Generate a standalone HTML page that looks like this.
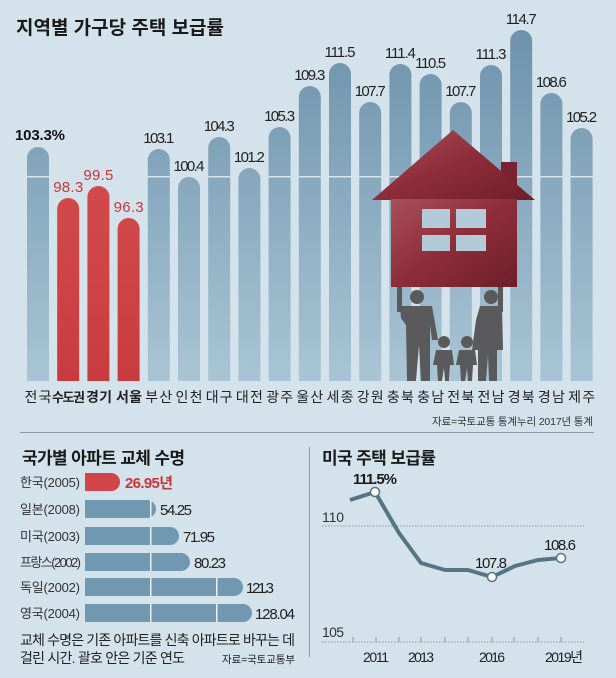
<!DOCTYPE html>
<html><head><meta charset="utf-8"><style>
html,body{margin:0;padding:0;background:#d4e2eb;}
svg{display:block;font-family:"Liberation Sans","Noto Sans CJK KR",sans-serif;}
</style></head><body>
<svg width="616" height="678" viewBox="0 0 616 678" xmlns="http://www.w3.org/2000/svg">
<defs>
<linearGradient id="bg" x1="0" y1="30" x2="0" y2="381" gradientUnits="userSpaceOnUse"><stop offset="0" stop-color="#6d92ab"/><stop offset="1" stop-color="#a9c5d5"/></linearGradient>
<linearGradient id="rg" x1="0" y1="180" x2="0" y2="381" gradientUnits="userSpaceOnUse"><stop offset="0" stop-color="#d24a4c"/><stop offset="1" stop-color="#c83c40"/></linearGradient>
<linearGradient id="hg" x1="0" y1="0" x2="1" y2="1"><stop offset="0" stop-color="#a9505a"/><stop offset="0.5" stop-color="#8e2d3a"/><stop offset="1" stop-color="#6e1f2a"/></linearGradient>
</defs>
<rect width="616" height="678" fill="#d4e2eb"/>
<text x="16" y="34" font-size="19" font-weight="bold" fill="#1a1a1a" textLength="208">지역별 가구당 주택 보급률</text>

<g fill="url(#bg)">
<path d="M27,381V158A11,11 0 0 1 49,158V381Z"/>
<path d="M147.8,381V160A11,11 0 0 1 169.8,160V381Z"/>
<path d="M178,381V188A11,11 0 0 1 200,188V381Z"/>
<path d="M208.2,381V148A11,11 0 0 1 230.2,148V381Z"/>
<path d="M238.4,381V179A11,11 0 0 1 260.4,179V381Z"/>
<path d="M268.6,381V138A11,11 0 0 1 290.6,138V381Z"/>
<path d="M298.8,381V97A11,11 0 0 1 320.8,97V381Z"/>
<path d="M329,381V74A11,11 0 0 1 351,74V381Z"/>
<path d="M359.2,381V113A11,11 0 0 1 381.2,113V381Z"/>
<path d="M389.4,381V75A11,11 0 0 1 411.4,75V381Z"/>
<path d="M419.6,381V85A11,11 0 0 1 441.6,85V381Z"/>
<path d="M449.8,381V113A11,11 0 0 1 471.8,113V381Z"/>
<path d="M480,381V76A11,11 0 0 1 502,76V381Z"/>
<path d="M510.2,381V41A11,11 0 0 1 532.2,41V381Z"/>
<path d="M540.4,381V104A11,11 0 0 1 562.4,104V381Z"/>
<path d="M570.6,381V139A11,11 0 0 1 592.6,139V381Z"/>
</g>
<g fill="url(#rg)">
<path d="M57.2,381V209A11,11 0 0 1 79.2,209V381Z"/>
<path d="M87.4,381V197A11,11 0 0 1 109.4,197V381Z"/>
<path d="M117.6,381V229A11,11 0 0 1 139.6,229V381Z"/>
</g>
<g fill="#e6eff4" opacity="0.85">
<rect x="27" y="176" width="22" height="1.5"/><rect x="147.8" y="176" width="22" height="1.5"/><rect x="208.2" y="176" width="22" height="1.5"/><rect x="268.6" y="176" width="22" height="1.5"/><rect x="298.8" y="176" width="22" height="1.5"/><rect x="329" y="176" width="22" height="1.5"/><rect x="359.2" y="176" width="22" height="1.5"/><rect x="389.4" y="176" width="22" height="1.5"/><rect x="419.6" y="176" width="22" height="1.5"/><rect x="449.8" y="176" width="22" height="1.5"/><rect x="480" y="176" width="22" height="1.5"/><rect x="510.2" y="176" width="22" height="1.5"/><rect x="540.4" y="176" width="22" height="1.5"/><rect x="570.6" y="176" width="22" height="1.5"/>
</g>

<g font-size="15" text-anchor="middle" fill="#222">
<text x="40" y="140" font-weight="bold" fill="#111" textLength="50">103.3%</text>
<text x="68.2" y="192" fill="#c8373a" textLength="30">98.3</text>
<text x="98.4" y="180" fill="#c8373a" textLength="30">99.5</text>
<text x="128.6" y="212" fill="#c8373a" textLength="30">96.3</text>
<text x="158.8" y="143" textLength="31">103.1</text>
<text x="189" y="171" textLength="31">100.4</text>
<text x="219.2" y="131" textLength="31">104.3</text>
<text x="249.4" y="162" textLength="31">101.2</text>
<text x="279.6" y="121" textLength="31">105.3</text>
<text x="309.8" y="80" textLength="31">109.3</text>
<text x="340" y="57" textLength="31">111.5</text>
<text x="370.2" y="96" textLength="31">107.7</text>
<text x="400.4" y="58" textLength="31">111.4</text>
<text x="430.6" y="68" textLength="31">110.5</text>
<text x="460.8" y="96" textLength="31">107.7</text>
<text x="491" y="59" textLength="31">111.3</text>
<text x="521.2" y="24" textLength="31">114.7</text>
<text x="551.4" y="87" textLength="31">108.6</text>
<text x="581.6" y="122" textLength="31">105.2</text>
</g>

<!-- house -->
<g>
<rect x="501" y="162" width="16" height="40" fill="#7a2330"/>
<polygon points="453,130 535,200 372,200" fill="url(#hg)"/>
<rect x="391" y="199" width="126" height="88" fill="url(#hg)"/>
<g fill="#b3cbd9">
<rect x="422" y="209" width="28" height="19"/><rect x="456" y="209" width="30" height="19"/>
<rect x="422" y="235" width="28" height="16"/><rect x="456" y="235" width="30" height="16"/>
</g>
</g>
<!-- family -->
<g fill="#5a5a5c">
<rect x="397" y="287" width="5" height="25"/>
<circle cx="417" cy="297" r="7"/>
<path d="M400,306 L432,306 L438,340 L432,340 L430,325 L430,381 L421,381 L419,345 L416,381 L407,381 L406,325 L401,318Z"/>
<rect x="498" y="287" width="5" height="25"/>
<circle cx="491" cy="297" r="7"/>
<path d="M480,306 L502,306 L503,350 L497,350 L497,381 L489,381 L488,355 L486,381 L478,381 L478,350 L472,350 L476,320Z"/>
<circle cx="444" cy="342" r="6"/>
<path d="M436,350 L452,350 L454,365 L450,365 L449,381 L445,381 L444,368 L442,381 L438,381 L437,365 L433,365Z"/>
<circle cx="467" cy="342" r="6"/>
<path d="M459,350 L475,350 L477,365 L473,365 L472,381 L468,381 L467,368 L465,381 L461,381 L460,365 L456,365Z"/>
</g>

<g font-size="14" text-anchor="middle" fill="#222">
<text x="38" y="402" textLength="27">전국</text>
<text x="68.5" y="402" font-weight="bold" font-size="13" textLength="33">수도권</text>
<text x="99" y="402" font-weight="bold" textLength="26">경기</text>
<text x="129" y="402" font-weight="bold" textLength="26">서울</text>
<text x="158.8" y="402" textLength="27">부산</text>
<text x="189" y="402" textLength="27">인천</text>
<text x="219.2" y="402" textLength="27">대구</text>
<text x="249.4" y="402" textLength="27">대전</text>
<text x="279.6" y="402" textLength="27">광주</text>
<text x="309.8" y="402" textLength="27">울산</text>
<text x="340" y="402" textLength="27">세종</text>
<text x="370.2" y="402" textLength="27">강원</text>
<text x="400.4" y="402" textLength="27">충북</text>
<text x="430.6" y="402" textLength="27">충남</text>
<text x="460.8" y="402" textLength="27">전북</text>
<text x="491" y="402" textLength="27">전남</text>
<text x="521.2" y="402" textLength="27">경북</text>
<text x="551.4" y="402" textLength="27">경남</text>
<text x="581.6" y="402" textLength="27">제주</text>
</g>
<text x="593" y="425" font-size="10.5" text-anchor="end" fill="#333" textLength="161">자료=국토교통 통계누리 2017년 통계</text>
<rect x="20" y="432" width="574" height="1" fill="#8a9aa5"/>
<rect x="309" y="447" width="1" height="210" fill="#8a9aa5"/>

<!-- bottom left -->
<text x="22" y="464" font-size="17" font-weight="bold" fill="#1a1a1a" textLength="163">국가별 아파트 교체 수명</text>
<g font-size="13" fill="#333">
<text x="20" y="487" textLength="60">한국(2005)</text>
<text x="20" y="514" textLength="60">일본(2008)</text>
<text x="20" y="541" textLength="60">미국(2003)</text>
<text x="20" y="567" textLength="61">프랑스(2002)</text>
<text x="20" y="592" textLength="60">독일(2002)</text>
<text x="20" y="618" textLength="60">영국(2004)</text>
</g>
<path d="M85,473H111A9,9 0 0 1 111,491H85Z" fill="#d0444a"/>
<g fill="#7198b1">
<path d="M85,500H147A9,9 0 0 1 147,518H85Z"/>
<path d="M85,527H170A9,9 0 0 1 170,545H85Z"/>
<path d="M85,553H181A9,9 0 0 1 181,571H85Z"/>
<path d="M85,578H234A9,9 0 0 1 234,596H85Z"/>
<path d="M85,604H243A9,9 0 0 1 243,622H85Z"/>
</g>
<g fill="#e6eff4">
<rect x="150" y="500" width="1.5" height="18"/>
<rect x="150" y="527" width="1.5" height="18"/><rect x="150" y="553" width="1.5" height="18"/>
<rect x="150" y="578" width="1.5" height="18"/><rect x="150" y="604" width="1.5" height="18"/>
<rect x="216" y="578" width="1.5" height="18"/><rect x="216" y="604" width="1.5" height="18"/>
</g>
<g font-size="15" fill="#222">
<text x="125" y="488" fill="#c8373a" font-weight="bold" textLength="48">26.95년</text>
<text x="160" y="515" textLength="32">54.25</text>
<text x="183" y="542" textLength="32">71.95</text>
<text x="194" y="568" textLength="32">80.23</text>
<text x="246" y="593" textLength="28">121.3</text>
<text x="255" y="619" textLength="40">128.04</text>
</g>
<text x="20" y="645" font-size="14" fill="#222" textLength="275">교체 수명은 기존 아파트를 신축 아파트로 바꾸는 데</text>
<text x="20" y="663" font-size="14" fill="#222" textLength="165">걸린 시간. 괄호 안은 기준 연도</text>
<text x="222" y="663" font-size="10.5" fill="#222" textLength="73">자료=국토교통부</text>

<!-- bottom right -->
<text x="322" y="464" font-size="17" font-weight="bold" fill="#1a1a1a" textLength="114">미국 주택 보급률</text>
<text x="322" y="522" font-size="14" fill="#333" textLength="22">110</text>
<text x="322" y="637" font-size="14" fill="#333" textLength="22">105</text>
<line x1="322" y1="526" x2="584" y2="526" stroke="#8a98a3" stroke-width="1" stroke-dasharray="1.5,1.5"/>
<line x1="322" y1="642" x2="584" y2="642" stroke="#8a98a3" stroke-width="1" stroke-dasharray="1.5,1.5"/>
<g stroke="#8a98a3" stroke-width="1">
<line x1="353" y1="637" x2="353" y2="642"/><line x1="376" y1="637" x2="376" y2="642"/><line x1="399" y1="637" x2="399" y2="642"/><line x1="421" y1="637" x2="421" y2="642"/><line x1="445" y1="637" x2="445" y2="642"/><line x1="468" y1="637" x2="468" y2="642"/><line x1="492" y1="637" x2="492" y2="642"/><line x1="514" y1="637" x2="514" y2="642"/><line x1="538" y1="637" x2="538" y2="642"/><line x1="561" y1="637" x2="561" y2="642"/>
</g>
<polyline points="350,500 375,492 399,533 421,563 445,570 468,570 492,577 515,566 538,560 561,558" fill="none" stroke="#557584" stroke-width="4" stroke-linejoin="round"/>
<g fill="#fff" stroke="#557584" stroke-width="1.5">
<circle cx="375" cy="492" r="4.5"/><circle cx="492" cy="577" r="4.5"/><circle cx="561" cy="558" r="4.5"/>
</g>
<g font-size="15" fill="#1a1a1a" text-anchor="middle">
<text x="375" y="484" font-weight="bold" textLength="44">111.5%</text>
<text x="491" y="568" textLength="32">107.8</text>
<text x="560" y="550" textLength="32">108.6</text>
</g>
<g font-size="14" fill="#222" text-anchor="middle">
<text x="376" y="662" textLength="26">2011</text>
<text x="421" y="662" textLength="26">2013</text>
<text x="492" y="662" textLength="26">2016</text>
<text x="564" y="662" textLength="38">2019년</text>
</g>
</svg>
</body></html>
